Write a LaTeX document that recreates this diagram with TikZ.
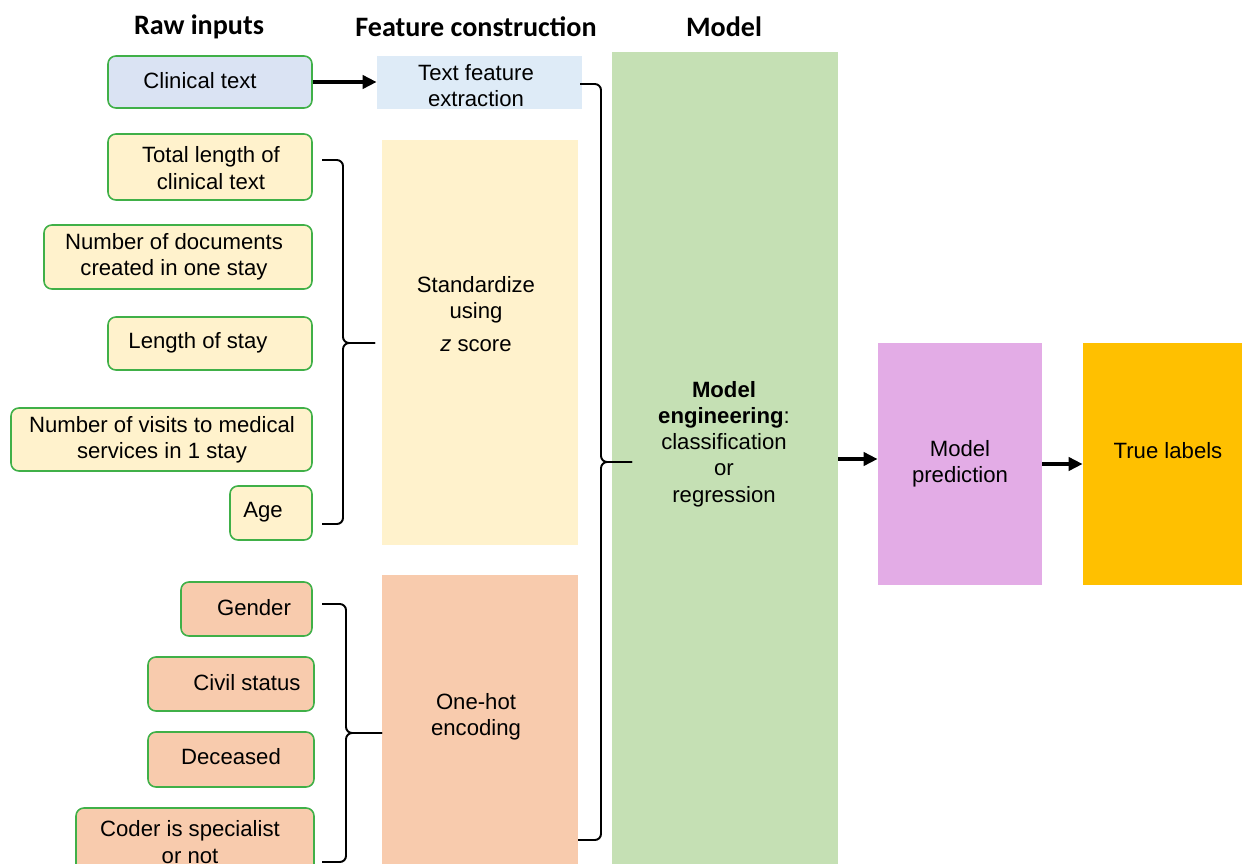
\documentclass[tikz,border=0pt]{standalone}
\usepackage{fontspec}
\setmainfont{Liberation Sans}
\newfontfamily\titlefont{Carlito}
\usetikzlibrary{fit,arrows.meta}
\definecolor{inborder}{RGB}{64,176,72}
\definecolor{inblue}{HTML}{DAE3F3}
\definecolor{tfeblue}{HTML}{DEEBF7}
\definecolor{cyellow}{HTML}{FFF2CC}
\definecolor{csalmon}{HTML}{F8CBAD}
\definecolor{cgreen}{HTML}{C5E0B4}
\definecolor{cpurple}{RGB}{227,172,230}
\definecolor{cgold}{HTML}{FFC000}
\tikzset{
  inbox/.style={draw=inborder, line width=0.9pt, rounded corners=4.5pt, inner sep=0pt},
  fbox/.style={inner sep=0pt, draw=none},
  txt/.style={inner sep=0pt, align=center, font=\fontsize{12.6}{14.9}\selectfont},
  ttl/.style={inner sep=0pt, font=\titlefont\bfseries\fontsize{16}{19}\selectfont},
  bigarrow/.style={line width=2.2pt, -{Triangle[length=8pt,width=7.5pt]}},
  bracel/.style={line width=1.1pt, rounded corners=3.5pt}
}
\begin{document}
\begin{tikzpicture}[x=0.02cm,y=-0.02cm]
\useasboundingbox (0,0) rectangle (1242,863);
% titles
\node[ttl] (t1) at (199,27) {Raw inputs};
\node[ttl] (t2) at (476,27) {Feature construction};
\node[ttl] (t3) at (724,27) {Model};
% input boxes
\node[inbox, fill=inblue, fit={(108,56)(312,108)}] (clin) {};
\node[inbox, fill=cyellow, fit={(108,134)(312,200)}] (tot) {};
\node[inbox, fill=cyellow, fit={(44,225)(312,289)}] (ndoc) {};
\node[inbox, fill=cyellow, fit={(108,317)(312,370)}] (los) {};
\node[inbox, fill=cyellow, fit={(11,408)(312,471)}] (nvis) {};
\node[inbox, fill=cyellow, fit={(230,486)(312,540)}] (age) {};
\node[inbox, fill=csalmon, fit={(181,582)(312,636)}] (gen) {};
\node[inbox, fill=csalmon, fit={(148,657)(314,711)}] (civ) {};
\node[inbox, fill=csalmon, fit={(148,732)(314,787)}] (dec) {};
\node[inbox, fill=csalmon, fit={(76,808)(314,890)}] (cod) {};
\node[txt] (clinT) at (200,81) {Clinical text};
\node[txt] (totT) at (211,168) {Total length of\\clinical text};
\node[txt] (ndocT) at (174,257) {Number of documents\\created in one stay};
\node[txt] (losT) at (198,343) {Length of stay};
\node[txt] (nvisT) at (162,440) {Number of visits to medical\\services in 1 stay};
\node[txt] (ageT) at (263,512) {Age};
\node[txt] (genT) at (254,608) {Gender};
\node[txt] (civT) at (247,683) {Civil status};
\node[txt] (decT) at (231,757) {Deceased};
\node[txt] (codT) at (190,842) {Coder is specialist\\or not};
% feature construction
\node[fbox, fill=tfeblue, fit={(377,56)(582,109)}] (tfe) {};
\node[fbox, fill=cyellow, fit={(382,140)(578,545)}] (std) {};
\node[fbox, fill=csalmon, fit={(382,575)(578,890)}] (ohe) {};
\node[txt] (tfeT) at (476,86) {Text feature\\extraction};
\node[txt] (stdT) at (476,314) {Standardize\\using\\[3.5pt]\textit{z} score};
\node[txt] (oheT) at (476,717) {One-hot\\encoding};
% model etc
\node[fbox, fill=cgreen, fit={(612,52)(838,890)}] (model) {};
\node[txt] (modelT) at (724,444) {\textbf{Model}\\\textbf{engineering}:\\classification\\or\\regression};
\node[fbox, fill=cpurple, fit={(878,343)(1042,585)}] (pred) {};
\node[txt] (predT) at (960,464) {Model\\prediction};
\node[fbox, fill=cgold, fit={(1083,343)(1250,585)}] (truel) {};
\node[txt] (trueT) at (1168,451) {True labels};
% arrows
\draw[bigarrow] (clin.east |- 0,82) -- (tfe.west |- 0,82);
\draw[bigarrow] (model.east |- 0,459) -- (pred.west |- 0,459);
\draw[bigarrow] (pred.east |- 0,464) -- (truel.west |- 0,464);
% braces
\coordinate (b1a) at (322,160);
\coordinate (b1m) at (343,343);
\coordinate (b1t) at (375,343);
\coordinate (b1b) at (322,524);
\draw[bracel] (b1a) -| (b1m) -- (b1t);
\draw[bracel] (b1t) -- (b1m) |- (b1b);
\coordinate (b2a) at (322,604);
\coordinate (b2m) at (346,733);
\coordinate (b2t) at (382,733);
\coordinate (b2b) at (322,862);
\draw[bracel] (b2a) -| (b2m) -- (b2t);
\draw[bracel] (b2t) -- (b2m) |- (b2b);
\coordinate (b3a) at (580,84);
\coordinate (b3m) at (601,462);
\coordinate (b3t) at (632,462);
\coordinate (b3b) at (578,840);
\draw[bracel] (b3a) -| (b3m) -- (b3t);
\draw[bracel] (b3t) -- (b3m) |- (b3b);
\end{tikzpicture}
\end{document}
